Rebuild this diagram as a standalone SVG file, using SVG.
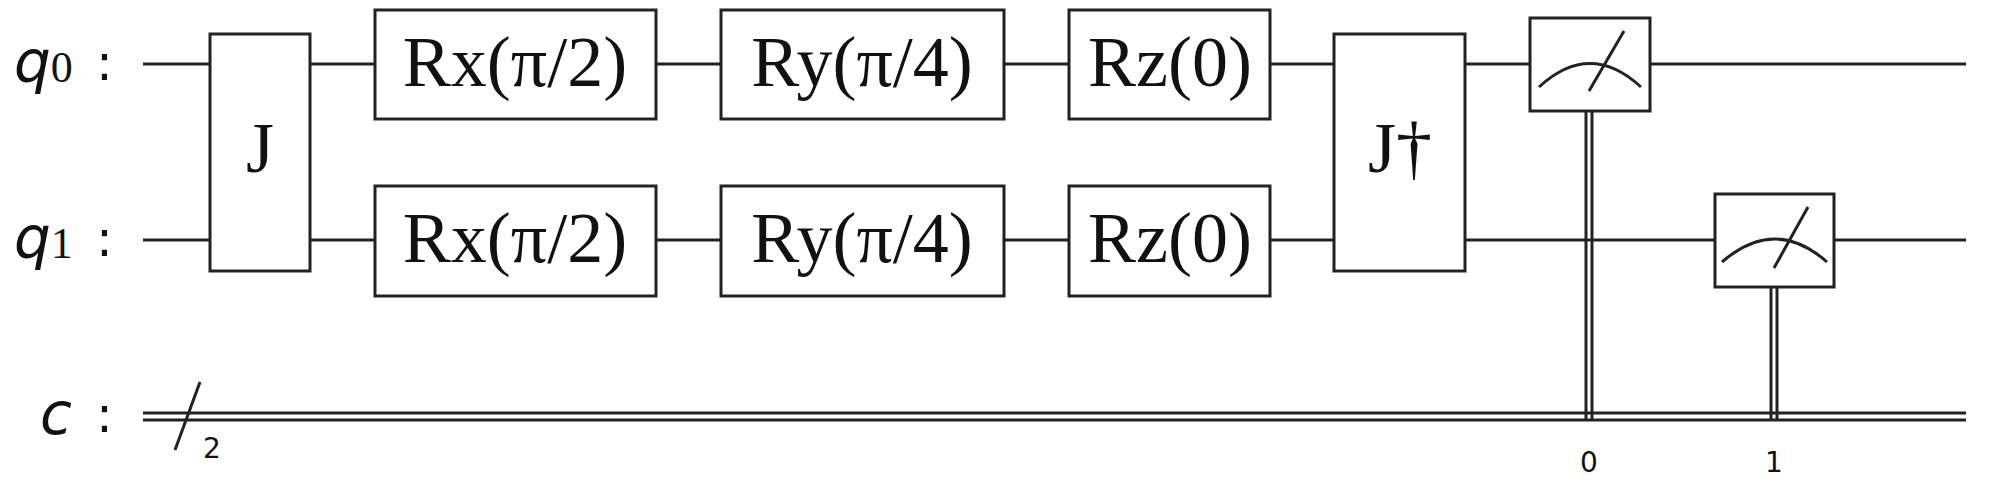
<svg xmlns="http://www.w3.org/2000/svg" width="2000" height="483" viewBox="0 0 2000 483">
<style>
.w{stroke:#222;stroke-width:3;fill:none}
.b{stroke:#222;stroke-width:3;fill:#fff}
.g{font-family:"Liberation Serif",serif;font-size:72px;fill:#111;text-anchor:middle}
.q{font-family:"DejaVu Sans",sans-serif;font-style:italic;font-size:58px;fill:#111}
.c{font-family:"DejaVu Sans",sans-serif;font-size:50px;fill:#111}
.s{font-family:"Liberation Serif",serif;font-style:normal;font-size:44px;fill:#111}
.n{font-family:"DejaVu Sans",sans-serif;font-size:28px;fill:#111;text-anchor:middle}
</style>
<g id="labels">
<text class="q" x="14" y="82">q<tspan class="s" dy="0">0</tspan></text>
<text class="c" x="96" y="80">:</text>
<text class="q" x="14" y="258">q<tspan class="s">1</tspan></text>
<text class="c" x="96" y="256">:</text>
<text class="q" x="40" y="434">c</text>
<text class="c" x="96" y="432">:</text>
</g>
<g id="connectors">
<line class="w" x1="143" y1="64" x2="1966" y2="64"/>
<line class="w" x1="143" y1="240" x2="1966" y2="240"/>
<line class="w" x1="143" y1="413" x2="1966" y2="413"/>
<line class="w" x1="143" y1="420" x2="1966" y2="420"/>
<line class="w" x1="200" y1="382" x2="175" y2="450"/>
<line class="w" x1="1586" y1="111" x2="1586" y2="419"/>
<line class="w" x1="1592" y1="111" x2="1592" y2="419"/>
<line class="w" x1="1771" y1="287" x2="1771" y2="419"/>
<line class="w" x1="1777" y1="287" x2="1777" y2="419"/>
</g>
<text class="n" x="212" y="458" font-size="24">2</text>
<text class="n" x="1589" y="472">0</text>
<text class="n" x="1774" y="472">1</text>
<g id="J"><rect class="b" x="210" y="34" width="100" height="237"/><text class="g" x="260" y="172">J</text></g>
<g id="Rx0"><rect class="b" x="375" y="10" width="281" height="109"/><text class="g" x="515" y="86">Rx(π/2)</text></g>
<g id="Rx1"><rect class="b" x="375" y="186" width="281" height="110"/><text class="g" x="515" y="262">Rx(π/2)</text></g>
<g id="Ry0"><rect class="b" x="721" y="10" width="283" height="109"/><text class="g" x="862" y="86">Ry(π/4)</text></g>
<g id="Ry1"><rect class="b" x="721" y="186" width="283" height="110"/><text class="g" x="862" y="262">Ry(π/4)</text></g>
<g id="Rz0"><rect class="b" x="1069" y="10" width="201" height="109"/><text class="g" x="1170" y="86">Rz(0)</text></g>
<g id="Rz1"><rect class="b" x="1069" y="186" width="201" height="110"/><text class="g" x="1170" y="262">Rz(0)</text></g>
<g id="Jdag"><rect class="b" x="1334" y="34" width="131" height="237"/><text class="g" x="1400" y="172">J†</text></g>
<g id="M0"><rect class="b" x="1530" y="18" width="120" height="93"/><path class="w" d="M1539 87 Q1590 40 1641 87"/><line class="w" x1="1589" y1="91" x2="1624" y2="31"/></g>
<g id="M1"><rect class="b" x="1715" y="194" width="119" height="93"/><path class="w" d="M1722 262 Q1775 216 1827 262"/><line class="w" x1="1774" y1="268" x2="1808" y2="207"/></g>
</svg>
